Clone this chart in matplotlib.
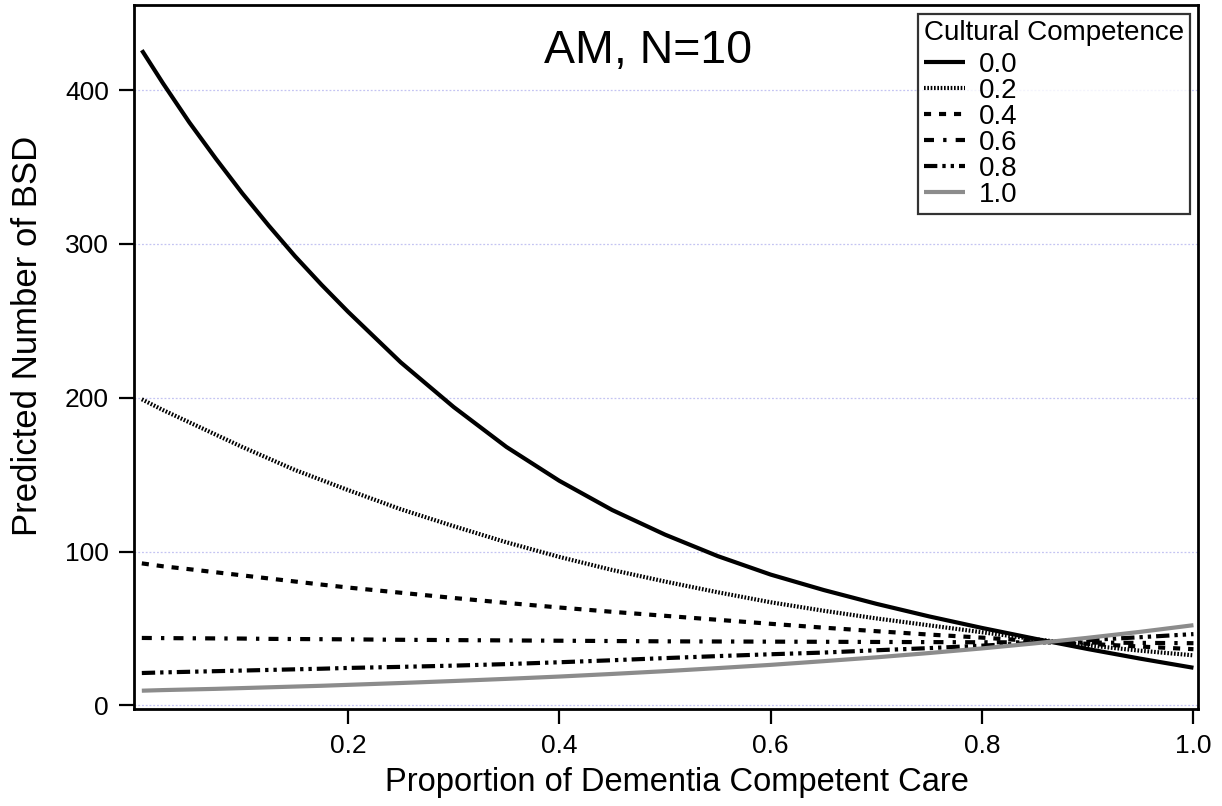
import matplotlib
matplotlib.use("Agg")
import matplotlib.pyplot as plt

plt.rcParams['font.family'] = ['Liberation Sans', 'DejaVu Sans']

# ---- data ----
x = [0.005, 0.025, 0.05, 0.075, 0.10, 0.125, 0.15, 0.175, 0.20, 0.25, 0.30,
     0.35, 0.40, 0.45, 0.50, 0.55, 0.60, 0.65, 0.70, 0.75, 0.80, 0.85,
     0.90, 0.95, 1.00]

cc_00 = [426, 404.5, 379, 355.5, 333, 312, 292, 273.5, 256, 223, 194,
         168, 146, 127, 111, 97, 85, 75, 66, 57.8, 50.3, 43.3,
         36.6, 30.3, 24.4]
cc_02 = [199, 192, 184, 176, 168, 160.5, 153, 146.5, 140, 127.5, 116.5,
         106, 96.5, 88, 80.5, 73.5, 67, 61.5, 56.5, 52, 47.5, 43,
         39, 35.5, 32.5]
cc_04 = [92.3, 90.4, 88.5, 86.5, 84.5, 82.5, 80.5, 78.5, 76.6, 73.2, 69.8,
         66.6, 63.6, 60.8, 58.2, 55.6, 53.0, 50.5, 48.2, 46.0, 44.0, 41.8,
         40.0, 38.2, 36.5]
cc_06 = [43.8, 43.7, 43.6, 43.5, 43.4, 43.2, 43.1, 43.0, 42.9, 42.6, 42.4,
         42.2, 42.0, 41.8, 41.6, 41.5, 41.4, 41.3, 41.2, 41.1, 41.0, 40.9,
         40.8, 40.6, 40.4]
cc_08 = [21.0, 21.4, 21.8, 22.2, 22.6, 23.0, 23.4, 23.8, 24.3, 25.0, 25.8,
         26.8, 28.0, 29.3, 30.7, 32.0, 33.2, 34.3, 35.8, 37.2, 38.8, 40.6,
         42.4, 44.3, 46.3]
cc_10 = [9.5, 9.9, 10.3, 10.7, 11.2, 11.7, 12.2, 12.7, 13.3, 14.5, 15.8,
         17.2, 18.7, 20.4, 22.2, 24.2, 26.3, 28.7, 31.2, 34.0, 37.0, 40.3,
         43.9, 47.8, 52.1]

labels = ["0.0", "0.2", "0.4", "0.6", "0.8", "1.0"]
xticks = [0.2, 0.4, 0.6, 0.8, 1.0]
yticks = [0, 100, 200, 300, 400]

series = [cc_00, cc_02, cc_04, cc_06, cc_08, cc_10]
styles = [
    dict(color="black", linestyle="-"),
    dict(color="black", linestyle=(0, (0.4, 0.4))),
    dict(color="black", linestyle=(0, (1.7, 1.9))),
    dict(color="black", linestyle=(0, (2.4, 2.2, 0.8, 2.2))),
    dict(color="black", linestyle=(0, (3.2, 1.2, 0.8, 1.2, 0.8, 1.2))),
    dict(color="#8c8c8c", linestyle="-"),
]

fig = plt.figure(figsize=(12.22, 8.06), dpi=100)
ax = fig.add_axes([134 / 1222, 1 - 709 / 806, (1198 - 134) / 1222, (709 - 5) / 806])

for ys, lab, st in zip(series, labels, styles):
    ax.plot(x, ys, linewidth=3, label=lab, solid_capstyle="butt",
            dash_capstyle="butt", **st)

ax.set_xlim(-0.0024, 1.0043)
ax.set_ylim(-2.4, 455.4)
ax.set_xticks(xticks)
ax.set_xticklabels([f"{v:.1f}" for v in xticks])
ax.set_yticks(yticks)
ax.yaxis.grid(True, color="#c4c4f2", linestyle=(0, (1.5, 1.5)), linewidth=0.9)
ax.set_axisbelow(True)

for sp in ax.spines.values():
    sp.set_linewidth(2)
ax.tick_params(axis="both", direction="out", length=11, width=1.6,
               labelsize=19, pad=7)

ax.set_xlabel("Proportion of Dementia Competent Care", fontsize=23.5)
ax.xaxis.set_label_coords(0.51, -0.083)
ax.set_ylabel("Predicted Number of BSD", fontsize=25)
ax.yaxis.set_label_coords(-0.085, 0.53)

ax.text(0.483, 0.935, "AM, N=10", transform=ax.transAxes, ha="center",
        va="center", fontsize=33.5)

leg = ax.legend(title="Cultural Competence", loc="upper right",
                bbox_to_anchor=(0.9925, 0.9872), fontsize=20,
                title_fontsize=20, frameon=True, fancybox=False,
                edgecolor="black", handlelength=1.5, handletextpad=0.5,
                labelspacing=0.0, borderpad=0.22, borderaxespad=0,
                alignment="left")
leg._legend_box.sep = 4
leg.get_frame().set_linewidth(1.6)

fig.savefig("out.png", dpi=100, facecolor="white")
